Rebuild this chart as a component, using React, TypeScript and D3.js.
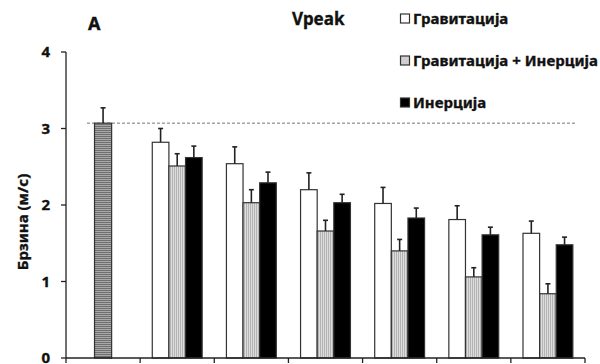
import { useMemo } from "react";
import * as d3 from "d3";

const WIDTH = 600;
const HEIGHT = 364;
const MARGIN = { top: 52, right: 15, bottom: 6, left: 66 };

// groups along the x axis (no labels shown in the picture)
const groups = ["g0", "g1", "g2", "g3", "g4", "g5", "g6"];
const series = ["Гравитација", "Гравитација + Инерција", "Инерција"];

// reference bar (first group)
const refValue = 3.07;
const refError = 0.2;

// series values for groups 1..6
const gravity = [2.82, 2.54, 2.2, 2.02, 1.81, 1.63];
const gravityErr = [0.18, 0.22, 0.22, 0.21, 0.18, 0.16];
const gravInertia = [2.51, 2.03, 1.66, 1.4, 1.06, 0.84];
const gravInertiaErr = [0.16, 0.17, 0.14, 0.15, 0.12, 0.13];
const inertia = [2.62, 2.29, 2.03, 1.83, 1.61, 1.48];
const inertiaErr = [0.15, 0.14, 0.11, 0.13, 0.1, 0.1];

const yTicks = [0, 1, 2, 3, 4];

const fills = ["#ffffff", "url(#vstripe)", "#000000"];
const legendFills = ["#ffffff", "#d0d0d0", "#000000"];

export default function App() {
  const boundsHeight = HEIGHT - MARGIN.top - MARGIN.bottom;

  const yScale = useMemo(
    () => d3.scaleLinear().domain([0, 4]).range([MARGIN.top + boundsHeight, MARGIN.top]),
    [boundsHeight]
  );
  const xScale = useMemo(
    () => d3.scaleBand().domain(groups).range([MARGIN.left, MARGIN.left + 519]).padding(0),
    []
  );
  const subScale = useMemo(
    () =>
      d3
        .scaleBand()
        .domain(series)
        .range([0, xScale.bandwidth()])
        .paddingInner(0)
        .paddingOuter(0.73),
    [xScale]
  );

  const values = [gravity, gravInertia, inertia];
  const errors = [gravityErr, gravInertiaErr, inertiaErr];
  const font = "'Noto Sans', 'Open Sans', sans-serif";
  // slight outline to get the heavy look of the original bold face
  const txt = { fontFamily: font, fontWeight: "bold", fill: "#111", stroke: "#111", strokeWidth: 0.35 };
  const y0 = yScale(0);

  // bars of groups 1..6
  const bars: { x: number; w: number; v: number; e: number; fill: string }[] = [];
  groups.slice(1).forEach((g, gi) => {
    series.forEach((s, si) => {
      bars.push({
        x: (xScale(g) ?? 0) + (subScale(s) ?? 0),
        w: subScale.bandwidth(),
        v: values[si][gi],
        e: errors[si][gi],
        fill: fills[si],
      });
    });
  });
  const refW = subScale.bandwidth() + 0.5;
  const refX = (xScale(groups[0]) ?? 0) + xScale.bandwidth() / 2 - refW / 2;

  const errBar = (cx: number, v: number, e: number, key: string) => (
    <g key={key} stroke="#222" strokeWidth={1.6}>
      <line x1={cx} x2={cx} y1={yScale(v)} y2={yScale(v + e)} />
      <line x1={cx - 2.5} x2={cx + 2.5} y1={yScale(v + e)} y2={yScale(v + e)} />
    </g>
  );

  const boundaries = [...groups.map((g) => xScale(g) ?? 0), MARGIN.left + 519];

  return (
    <svg width={WIDTH} height={HEIGHT} style={{ position: "absolute", left: 0, top: 0, background: "#fff" }}>
      <defs>
        <pattern id="hstripe" width="4" height="2" patternUnits="userSpaceOnUse">
          <rect width="4" height="2" fill="#a8a8a8" />
          <rect width="4" height="1" fill="#707070" />
        </pattern>
        <pattern id="vstripe" width="2" height="4" patternUnits="userSpaceOnUse">
          <rect width="2" height="4" fill="#dcdcdc" />
          <rect width="1" height="4" fill="#b4b4b4" />
        </pattern>
      </defs>

      {/* dashed reference line */}
      <line
        x1={87}
        x2={577}
        y1={yScale(refValue)}
        y2={yScale(refValue)}
        stroke="#777"
        strokeWidth={1}
        strokeDasharray="3,2"
      />

      {/* reference bar */}
      <rect x={refX} y={yScale(refValue)} width={refW} height={y0 - yScale(refValue)} fill="url(#hstripe)" stroke="#333" strokeWidth={1.2} />
      {errBar(refX + refW / 2, refValue, refError, "ref")}

      {bars.map((b, i) => (
        <g key={i}>
          <rect x={b.x} y={yScale(b.v)} width={b.w} height={y0 - yScale(b.v)} fill={b.fill} stroke="#333" strokeWidth={1.2} />
          {errBar(b.x + b.w / 2, b.v, b.e, "e" + i)}
        </g>
      ))}

      {/* y axis */}
      <line x1={MARGIN.left} x2={MARGIN.left} y1={yScale(4)} y2={y0} stroke="#222" strokeWidth={1.3} />
      {yTicks.map((t) => (
        <g key={t}>
          <line x1={MARGIN.left - 5} x2={MARGIN.left} y1={yScale(t)} y2={yScale(t)} stroke="#222" strokeWidth={1.3} />
          <text x={50} y={yScale(t)} dy="0.36em" textAnchor="end" fontSize={15} {...txt}>
            {t}
          </text>
        </g>
      ))}

      {/* x axis */}
      <line x1={MARGIN.left} x2={MARGIN.left + 519} y1={y0} y2={y0} stroke="#222" strokeWidth={1.3} />
      {boundaries.map((bx, i) => (
        <line key={i} x1={bx} x2={bx} y1={y0} y2={y0 + 5} stroke="#222" strokeWidth={1.3} />
      ))}

      {/* y label */}
      <text transform={`translate(28, 222) rotate(-90)`} textAnchor="middle" fontSize={15} {...txt}>
        Брзина (м/с)
      </text>

      {/* titles */}
      <text x={88} y={30} fontSize={18} {...txt}>A</text>
      <text x={292} y={25} fontSize={17} {...txt}>Vpeak</text>

      {/* legend */}
      {series.map((s, i) => (
        <g key={s} transform={`translate(400, ${24 + i * 42})`}>
          <rect x={0.5} y={-10} width={9} height={9} fill={legendFills[i]} stroke="#333" strokeWidth={1.2} />
          <text x={13} y={0} fontSize={15} {...txt}>{s}</text>
        </g>
      ))}
    </svg>
  );
}
